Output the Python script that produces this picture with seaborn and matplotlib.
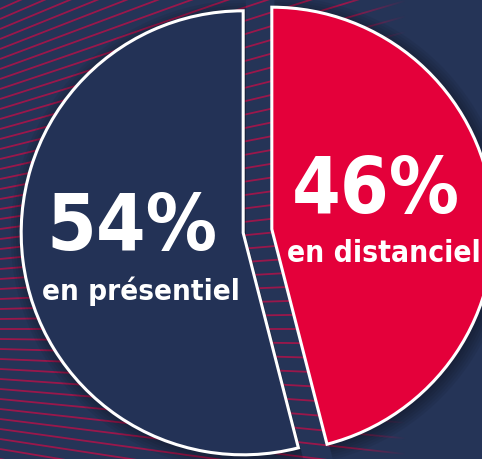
import numpy as np
import matplotlib.pyplot as plt
import matplotlib.font_manager as fm
import seaborn as sns

# Données
modes = ["en distanciel", "en présentiel"]
parts = [46, 54]
couleurs = ["#e4003a", "#233256"]

# Style
sns.set_theme(style="white")
plt.rcParams['font.family'] = ['Roboto', 'DejaVu Sans']

FOND = "#253457"
W, H = 482, 460


def police_etroite():
    '''Cherche une police grasse étroite installée, sinon Roboto.'''
    cands = [f for f in fm.fontManager.ttflist
             if ('Condensed' in f.name or 'Narrow' in f.name
                 or f.stretch in ('condensed', 'semi-condensed', 'extra-condensed'))]
    gras = [f for f in cands if f.weight in ('bold', 700, 'heavy', 800, 'semibold', 600)]
    if gras:
        return fm.FontProperties(fname=gras[0].fname)
    if cands:
        return fm.FontProperties(fname=cands[0].fname, weight='bold')
    return fm.FontProperties(family=['Roboto', 'DejaVu Sans'], weight='bold')


fp = police_etroite()

fig = plt.figure(figsize=(W / 100, H / 100), dpi=100)
fig.patch.set_facecolor(FOND)

# Fond : lignes rouges en éventail (repère en pixels)
bg = fig.add_axes([0, 0, 1, 1])
bg.set_xlim(0, W)
bg.set_ylim(H, 0)
bg.axis('off')
cx, cy = -720, 330
for y0 in np.arange(-150, 620, 10):
    pente = (y0 - cy) / (0 - cx)
    xs = np.array([0, W])
    bg.plot(xs, y0 + pente * xs, color="#a8144a", lw=1.3, alpha=0.9,
            solid_capstyle='butt')

# fondu vers la droite
grad = np.zeros((2, W, 4))
grad[..., :3] = np.array([int(FOND[i:i + 2], 16) / 255 for i in (1, 3, 5)])
grad[..., 3] = np.clip((np.arange(W) - 345) / 60, 0, 1)
bg.imshow(grad, extent=(0, W, H, 0), aspect='auto', zorder=3)

# Camembert
ax = fig.add_axes([0, 0, 1, 1], zorder=2)
ax.set_facecolor('none')
# ombre douce
for k in range(6):
    ax.pie(parts, colors=['black', 'black'], startangle=90, counterclock=False,
           explode=[0.065, 0.065], radius=1.0 + 0.012 * k,
           center=(0.012, -0.012),
           wedgeprops=dict(alpha=0.06, linewidth=0))
ax.pie(parts, colors=couleurs, startangle=90, counterclock=False,
       explode=[0.065, 0.065],
       wedgeprops=dict(edgecolor='white', linewidth=2.2, joinstyle='miter'))
r_px = 222
ax.set_xlim(-257.5 / r_px, (W - 257.5) / r_px)
ax.set_ylim(-228 / r_px, (H - 228) / r_px)
ax.set_aspect('equal', adjustable='datalim')

# Étiquettes : (x centre, ligne de base, largeur visée, hauteur visée) en pixels
pos = {"en présentiel": [(132, 250, 171, 71), (141, 300, 197, 27)],
       "en distanciel": [(376, 213, 168, 71), (384, 262, 194, 26)]}

fig.canvas.draw()
rend = fig.canvas.get_renderer()
for mode, p in zip(modes, parts):
    for s, (x, y, larg, haut) in zip([f"{p}%", mode], pos[mode]):
        taille = haut / 0.72 * 0.72  # hauteur des capitales ~0.72 em, px -> pt
        t = fig.text(x / W, 1 - y / H, s, color='white', fontproperties=fp,
                     fontsize=taille, ha='center', va='baseline', zorder=5)
        w = t.get_window_extent(rend).width
        if w > larg:
            t.set_fontsize(taille * larg / w)

fig.savefig("out.png", dpi=100, facecolor=FOND)
